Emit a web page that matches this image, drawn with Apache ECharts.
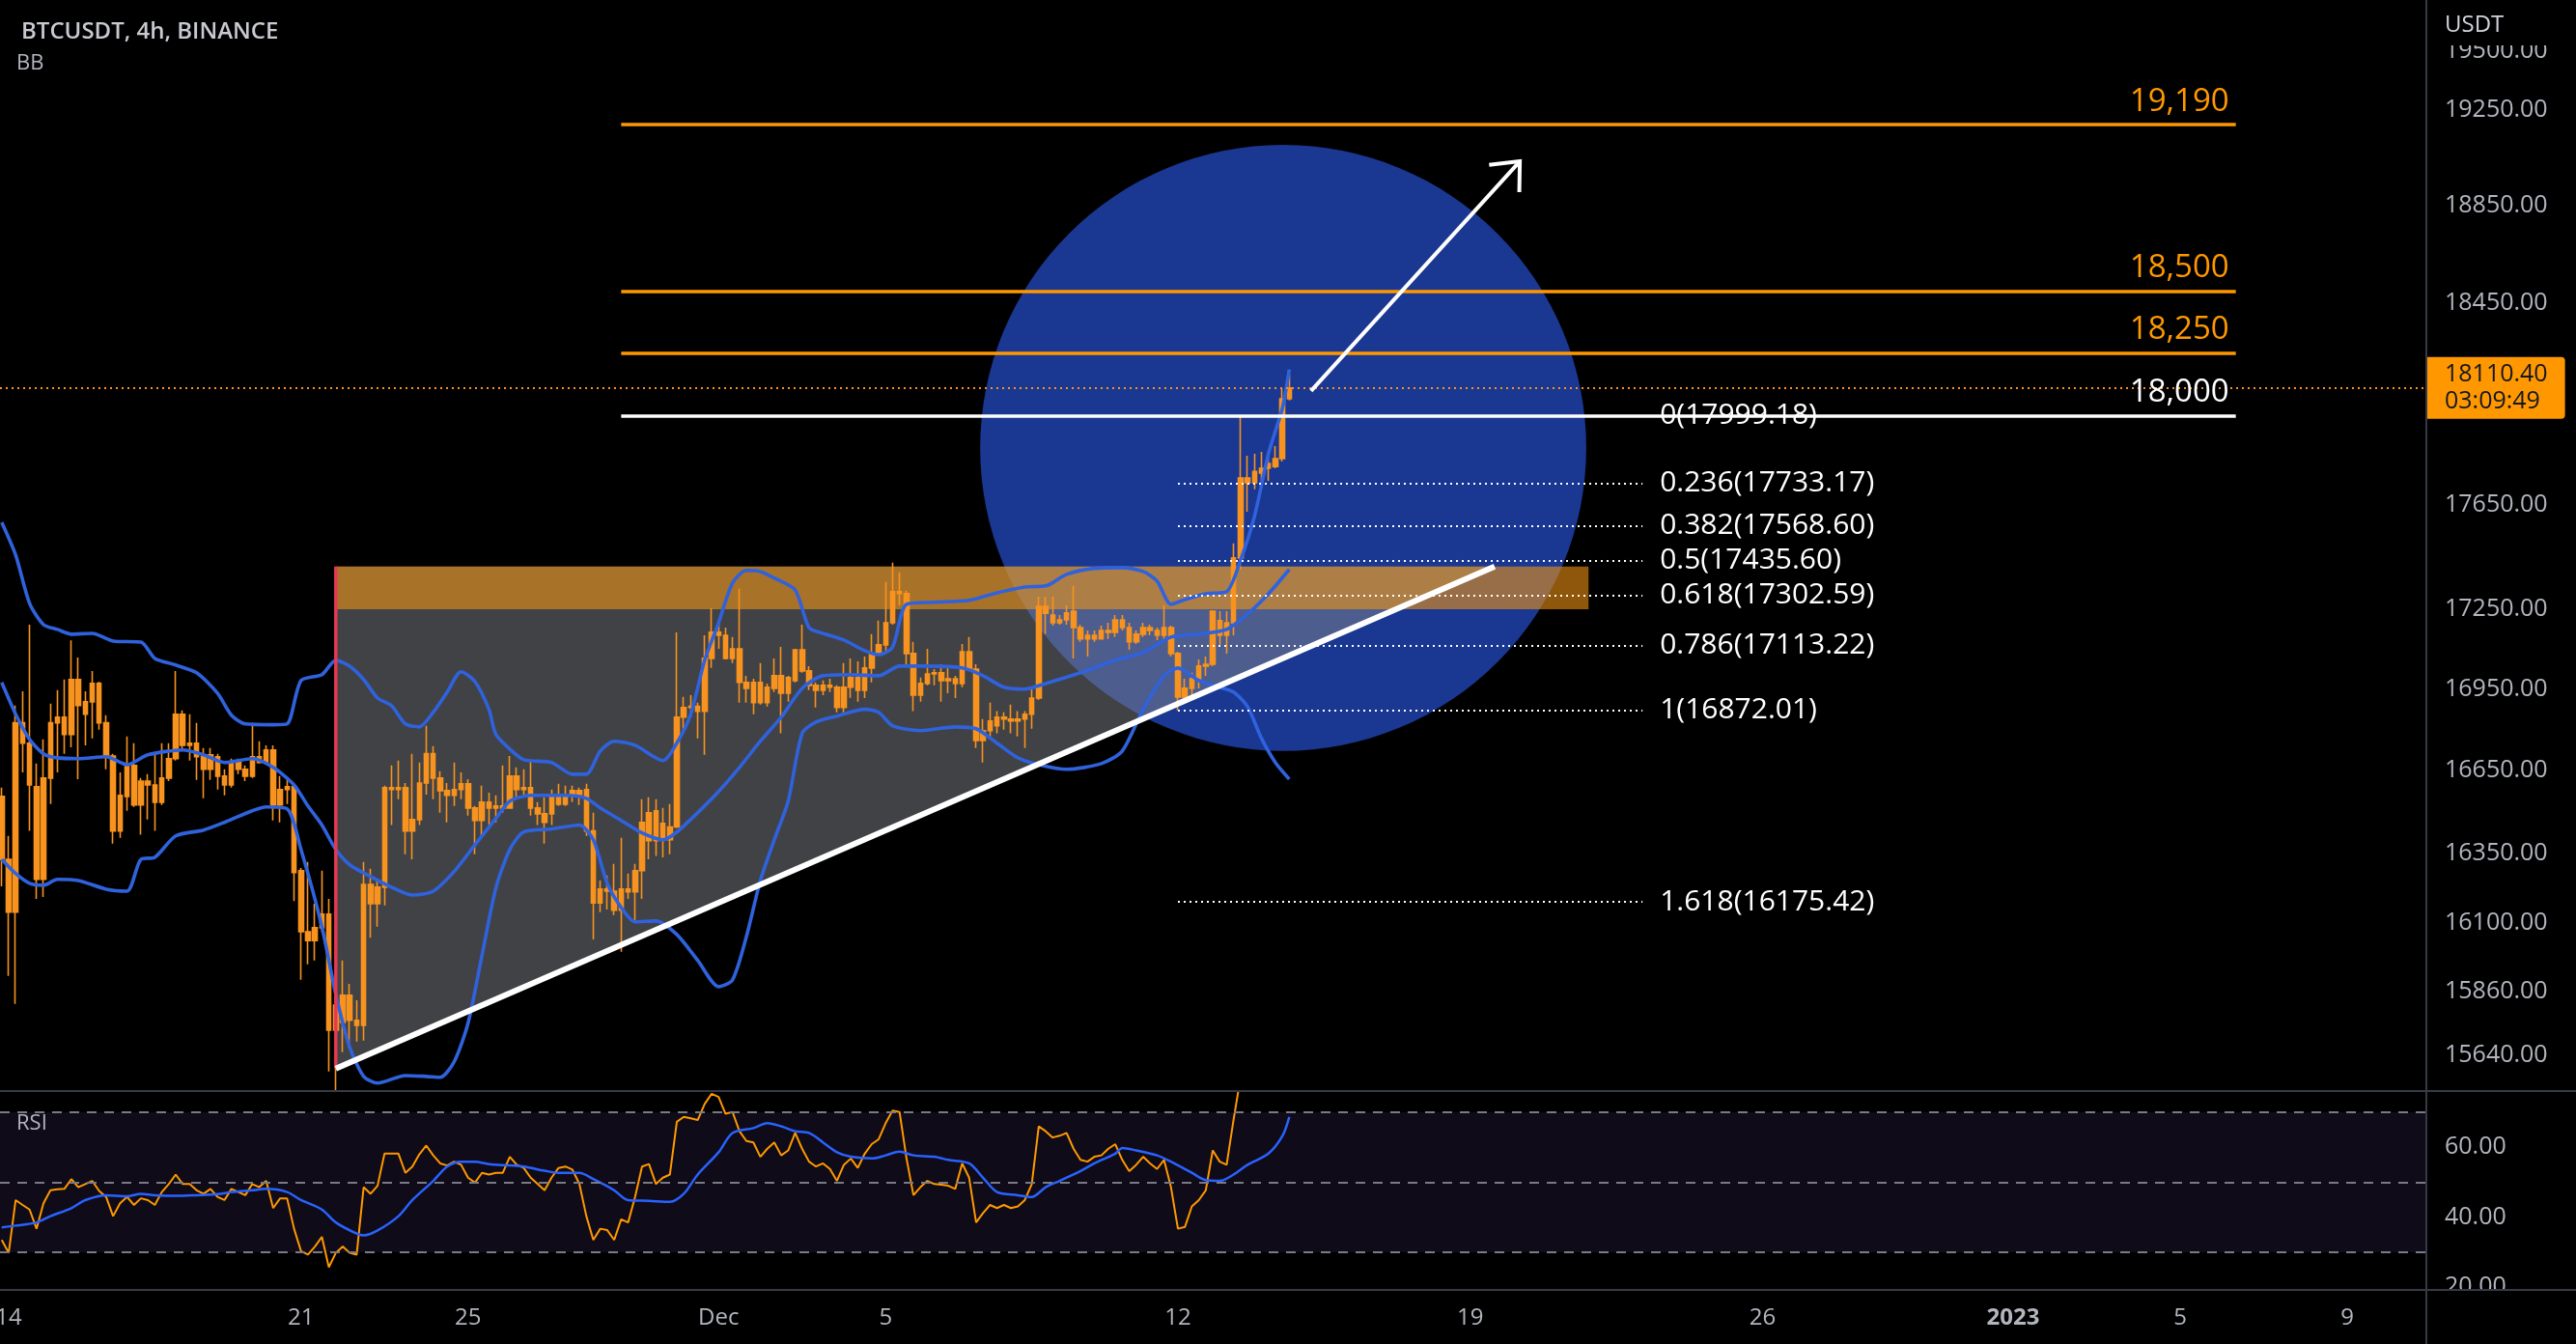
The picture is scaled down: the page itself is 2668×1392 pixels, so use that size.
<!DOCTYPE html>
<html><head><meta charset="utf-8">
<script src="https://cdn.jsdelivr.net/npm/echarts@6/dist/echarts.min.js"></script>
<style>html,body{margin:0;padding:0;background:#000;overflow:hidden}#chart{width:2668px;height:1392px}</style>
</head><body><div id="chart"></div>
<script>
// ---------------- data ----------------
const firstBarTime = '2022-11-13T20:00:00Z';
const barHours = 4;
// [open, close, low, high] per 4h bar
const candles = [
[16555,16328,16231,16587],[16328,16139,15915,16412],[16139,16825,15817,16889],[16825,16750,16643,16942],[16750,16597,16430,17192],
[16590,16256,16186,16675],[16256,16622,16193,16764],[16622,16825,16527,16896],[16825,16846,16643,16946],[16846,16782,16711,16986],
[16782,16986,16735,17133],[16986,16889,16618,17068],[16857,16903,16742,16942],[16903,16971,16768,17018],[16971,16825,16800,16978],
[16825,16703,16654,16853],[16703,16430,16384,16711],[16430,16559,16405,16643],[16555,16668,16503,16775],[16668,16524,16517,16750],
[16524,16611,16416,16622],[16611,16597,16471,16636],[16597,16534,16430,16718],[16534,16622,16524,16750],[16622,16693,16611,16750],
[16693,16857,16686,17018],[16857,16742,16725,16871],[16742,16750,16686,16857],[16750,16700,16615,16825],[16700,16654,16548,16732],
[16654,16707,16615,16732],[16700,16629,16580,16711],[16629,16597,16559,16654],[16597,16679,16587,16693],[16679,16654,16636,16693],
[16654,16629,16611,16668],[16629,16700,16622,16825],[16700,16679,16675,16757],[16679,16725,16675,16742],[16725,16524,16468,16742],
[16524,16580,16461,16629],[16580,16590,16527,16618],[16590,16280,16179,16597],[16287,16070,15901,16297],[16070,16039,15955,16318],
[16039,16084,15969,16169],[16084,16132,16067,16287],[16132,15726,15584,16186],[15726,15813,15517,15840],[15753,15847,15650,15969],
[15847,15760,15663,15887],[15760,15743,15687,15830],[15743,16238,15690,16318],[16238,16169,16049,16294],[16169,16228,16088,16256],
[16228,16587,16163,16594],[16587,16580,16451,16668],[16580,16587,16545,16686],[16587,16430,16346,16604],[16430,16471,16328,16711],
[16471,16604,16451,16679],[16604,16711,16562,16814],[16711,16622,16545,16739],[16622,16576,16496,16647],[16576,16559,16461,16604],
[16559,16580,16520,16679],[16580,16601,16545,16643],[16601,16513,16485,16618],[16513,16468,16346,16520],[16468,16534,16412,16594],
[16534,16513,16451,16569],[16513,16520,16461,16559],[16520,16513,16496,16668],[16513,16629,16513,16703],[16629,16580,16545,16661],
[16580,16587,16562,16654],[16587,16513,16485,16686],[16513,16492,16451,16534],[16492,16461,16384,16552],[16492,16562,16451,16580],
[16562,16527,16520,16601],[16527,16562,16520,16594],[16562,16576,16534,16594],[16576,16562,16524,16587],[16580,16430,16412,16601],
[16430,16172,16043,16496],[16172,16221,16139,16252],[16221,16214,16149,16270],[16214,16146,16129,16311],[16146,16221,15999,16405],
[16221,16211,16186,16277],[16211,16287,16105,16311],[16287,16461,16186,16545],[16496,16395,16328,16552],[16395,16503,16340,16545],
[16457,16398,16335,16513],[16398,16444,16346,16527],[16444,16846,16440,17163],[16846,16882,16796,16921],[16882,16886,16846,16928],
[16886,16868,16768,16900],[16868,17065,16707,17152],[17065,17163,17029,17254],[17163,17152,17101,17199],[17152,17065,17061,17181],
[17065,17101,17047,17145],[17101,16975,16900,17328],[16975,16953,16900,17000],[16975,16900,16857,16989],[16900,16975,16893,17047],
[16957,16900,16885,16971],[16953,17000,16939,17065],[17000,16935,16786,17108],[16935,16993,16903,17000],[16982,17097,16975,17101],
[17097,17018,17011,17192],[17018,16964,16946,17036],[16964,16946,16882,16975],[16946,16964,16928,16982],[16964,16957,16939,16989],
[16957,16882,16864,16964],[16882,16957,16864,17047],[16957,16993,16918,17065],[16993,16946,16903,17054],[16946,17029,16917,17072],
[17029,17083,16975,17156],[17083,17116,17079,17207],[17116,17199,17083,17354],[17199,17317,17192,17428],[17317,17310,17265,17391],
[17310,17083,17036,17321],[17083,16928,16868,17127],[16928,16971,16903,16993],[16971,17007,16964,17101],[17007,17011,16964,17025],
[17011,16982,16903,17043],[16982,16989,16935,17036],[16989,16971,16917,17000],[16971,17090,16957,17119],[17090,17025,17018,17145],
[17025,16760,16732,17043],[16760,16796,16679,16839],[16796,16832,16768,16900],[16814,16846,16786,16868],[16846,16839,16800,16864],
[16839,16832,16786,16893],[16832,16839,16775,16868],[16839,16857,16732,16868],[16857,16917,16803,16957],[16917,17261,16910,17298],
[17261,17235,17156,17298],[17228,17199,17188,17298],[17199,17210,17192,17228],[17210,17236,17192,17265],[17243,17181,17065,17339],
[17181,17138,17127,17192],[17138,17152,17072,17170],[17152,17138,17127,17170],[17138,17170,17138,17188],[17170,17163,17138,17199],
[17163,17210,17145,17228],[17210,17181,17170,17228],[17181,17127,17097,17199],[17127,17156,17119,17170],[17156,17181,17145,17199],
[17181,17170,17152,17192],[17170,17152,17134,17181],[17152,17181,17138,17265],[17181,17083,17072,17188],[17083,16921,16872.01,17090],
[16921,16953,16903,16989],[16953,16989,16921,17011],[16989,17036,16953,17061],[17036,17043,17000,17072],[17043,17243,17036,17247],
[17207,17152,17116,17243],[17152,17199,17083,17243],[17199,17446,17152,17502],[17446,17755,17402,17999.18],[17755,17737,17624,17842],
[17737,17781,17711,17850],[17774,17793,17737,17857],[17793,17812,17744,17842],[17800,17831,17793,17880],[17831,18067,17820,18109],
[18067,18110.4,18060,18163]
];
// RSI per bar (aligned with candles)
const rsiValues = [33.5,29.8,44.9,43.5,42.2,36.7,44.0,47.7,48.0,48.1,50.9,48.6,49.5,50.4,47.5,45.8,40.3,44.0,45.8,43.5,
45.4,44.9,43.5,47.2,49.5,52.2,49.5,49.5,47.7,46.7,48.1,45.8,44.9,48.1,47.2,46.3,49.5,48.6,50.4,42.6,
45.4,45.4,36.7,30.3,29.3,31.6,34.4,25.7,29.8,31.6,29.8,29.3,48.6,46.7,49.0,58.2,58.2,58.2,52.7,54.5,
58.0,60.5,57.7,55.4,54.8,55.9,55.0,51.3,49.9,52.7,52.2,52.7,52.7,57.3,55.0,54.1,51.3,49.5,47.7,51.3,
54.1,54.5,53.6,49.5,40.3,33.5,36.7,36.3,33.5,39.4,38.5,45.8,54.5,55.2,49.5,51.3,52.2,67.3,68.7,68.3,
67.8,72.4,75.3,74.4,69.6,70.1,64.6,61.8,61.4,57.3,59.6,61.4,57.7,59.1,64.1,59.6,55.9,54.5,55.4,53.8,
50.4,55.0,56.8,54.1,58.2,60.9,62.3,66.9,70.5,70.1,56.8,46.3,48.6,50.4,49.5,49.3,49.0,48.1,55.4,51.3,
38.5,41.2,43.5,42.6,43.5,42.6,43.1,44.9,49.5,66.0,64.6,62.8,63.3,64.1,59.6,56.4,55.9,57.3,57.7,59.6,
60.9,56.4,53.2,55.0,57.3,55.4,53.8,56.4,48.6,36.7,37.2,43.1,44.9,47.7,59.1,55.9,55.0,68.0,80.0,79.0,
80.0,80.5,81.0,82.0,86.0,87.0];
// [bar index, value] readings of the smoothed RSI line
const rsiMA = [[0,37.1],[2,37.6],[5,38.5],[7,40.3],[10,42.6],[12,44.9],[15,46.3],[18,46.0],[20,46.7],[22,46.3],[25,46.1],[28,46.3],[31,46.6],[33,47.2],[36,47.7],[38,48.1],[41,47.2],[43,44.9],[46,42.2],[48,38.5],[51,35.3],[52,34.8],[54,36.2],[57,40.3],[59,44.9],[62,50.4],[64,54.5],[66,55.9],[68,55.9],[70,55.2],[73,54.8],[75,54.5],[78,53.3],[80,52.7],[83,52.7],[85,50.9],[88,47.7],[90,44.9],[93,44.7],[96,44.4],[98,46.7],[100,52.2],[103,58.6],[105,64.1],[108,65.5],[110,66.9],[112,66.0],[114,64.6],[116,64.1],[118,61.4],[120,58.6],[122,57.3],[125,56.8],[127,57.7],[129,58.8],[131,57.7],[134,57.3],[136,56.4],[139,55.4],[141,51.3],[143,47.2],[146,46.3],[148,45.8],[150,48.6],[152,50.4],[155,53.2],[157,55.4],[160,58.2],[161,59.8],[163,59.1],[166,57.7],[168,55.9],[171,52.7],[173,50.6],[175,50.4],[177,52.2],[179,55.0],[182,58.2],[184,63.2],[185,68.7]];
// Bollinger bands, [bar index, price] readings
const bbUpper = [[0,17583],[2,17457],[4,17273],[6,17192],[8,17174],[10,17156],[13,17159],[16,17130],[20,17126],[22,17065],[25,17040],[28,17011],[31,16935],[33,16853],[35,16821],[39,16818],[41,16821],[43,16982],[46,17004],[48,17058],[50,17036],[52,16986],[54,16917],[56,16889],[58,16821],[60,16810],[62,16864],[64,16939],[66,17015],[68,16978],[70,16875],[71,16782],[73,16728],[75,16689],[79,16679],[82,16636],[84,16636],[86,16721],[88,16757],[91,16742],[95,16686],[97,16750],[99,16857],[101,17058],[103,17199],[105,17350],[107,17398],[109,17394],[111,17369],[114,17324],[116,17181],[118,17159],[121,17134],[124,17094],[126,17079],[128,17108],[130,17269],[134,17277],[139,17284],[143,17313],[147,17335],[150,17339],[153,17383],[157,17406],[161,17409],[164,17394],[166,17357],[168,17269],[170,17287],[173,17309],[176,17317],[178,17438],[180,17606],[182,17850],[184,18029],[185,18184]];
const bbBasis = [[0,16975],[2,16857],[4,16764],[6,16711],[8,16696],[11,16693],[15,16700],[18,16671],[21,16707],[26,16725],[29,16707],[32,16679],[36,16693],[39,16661],[42,16597],[44,16520],[46,16451],[48,16363],[50,16308],[53,16266],[56,16228],[59,16200],[62,16214],[65,16284],[68,16380],[71,16475],[73,16538],[76,16559],[81,16559],[84,16548],[86,16513],[89,16468],[92,16423],[95,16398],[97,16426],[100,16496],[103,16573],[106,16661],[109,16757],[112,16846],[115,16953],[118,17000],[122,17004],[126,17000],[129,17036],[133,17036],[138,17029],[141,17000],[144,16957],[147,16950],[150,16971],[155,17011],[160,17058],[164,17087],[168,17145],[172,17156],[176,17174],[179,17232],[182,17309],[185,17402]];
const bbLower = [[0,16328],[2,16277],[4,16242],[6,16235],[8,16256],[11,16252],[15,16221],[18,16214],[20,16328],[22,16335],[25,16412],[29,16433],[32,16461],[36,16503],[38,16517],[41,16510],[43,16363],[46,16088],[48,15850],[50,15667],[52,15567],[54,15544],[58,15570],[61,15567],[63,15564],[65,15617],[67,15750],[69,15986],[71,16225],[73,16363],[75,16426],[79,16437],[83,16451],[85,16398],[87,16242],[89,16156],[91,16105],[94,16108],[97,16060],[100,15969],[103,15877],[105,15901],[107,16053],[109,16252],[111,16398],[113,16538],[115,16786],[117,16828],[120,16850],[124,16875],[126,16864],[128,16814],[132,16796],[137,16810],[140,16803],[143,16750],[146,16696],[149,16671],[153,16654],[158,16675],[161,16721],[164,16875],[167,17000],[169,17029],[172,16982],[175,16957],[177,16939],[179,16885],[181,16768],[183,16679],[185,16618]];

const dateTicks = ['2022-11-14','2022-11-21','2022-11-25','2022-12-01','2022-12-05','2022-12-12','2022-12-19','2022-12-26','2023-01-01','2023-01-05','2023-01-09'];
const dateTickLabels = ['14','21','25','Dec','5','12','19','26','2023','5','9'];
const priceTicks = [15640,15860,16100,16350,16650,16950,17250,17650,18450,18850,19250,19500];
const rsiTicks = [20,40,60];
const rsiGuides = [30,50,70];

const levelPrices = [19190,18500,18250,18000];
const levelLabels = ['19,190','18,500','18,250','18,000'];
const levelSpan = ['2022-11-28T16:00:00Z','2023-01-06T08:00:00Z'];
const fibRatios = ['0','0.236','0.382','0.5','0.618','0.786','1','1.618'];
const fibPrices = [17999.18,17733.17,17568.60,17435.60,17302.59,17113.22,16872.01,16175.42];
const fibSpan = ['2022-12-12T00:00:00Z','2022-12-23T03:00:00Z'];
const zoneSpan = ['2022-11-21T20:00:00Z','2022-12-21T20:00:00Z'];
const zonePrices = [17250,17413];
const triangle = [['2022-11-21T20:00:00Z',17413],['2022-11-21T20:00:00Z',15594],['2022-12-19T14:00:00Z',17413]];
const trendLine = [['2022-11-21T20:00:00Z',15594],['2022-12-19T14:00:00Z',17413]];
const redLine = [['2022-11-21T20:00:00Z',17413],['2022-11-21T20:00:00Z',15594]];
const arrowLine = [['2022-12-15T04:30:00Z',18098],['2022-12-20T04:30:00Z',19035]];
const circleCenter = ['2022-12-14T12:30:00Z',17873];
const circleEdgePrice = 19104;
const lastPrice = 18110.40;
const countdown = '03:09:49';
const xRange = ['2022-11-13T19:00:00Z','2023-01-10T21:30:00Z'];
const priceRange = [15517,19722];
const rsiRange = [19.2,76.1];

// ---------------- chart ----------------
const T = s => Date.parse(s.length === 10 ? s + 'T00:00:00Z' : s);
const H = barHours * 3600 * 1000;
const t0 = T(firstBarTime);
const candleData = candles.map((c, i) => [t0 + i * H, c[0], c[1], c[2], c[3]]);
const bySeries = arr => arr.map(([i, v]) => [t0 + i * H, v]);
const tickTimes = dateTicks.map(T);
const ORANGE = '#f7931e', BLUE = '#2f62dc', GREY = '#b2b5be';
const FONT = 'Open Sans';

const levelMarks = levelPrices.map((p, i) => [
  { coord: [T(levelSpan[0]), p], lineStyle: { color: i === 3 ? '#ffffff' : '#ff9800', width: 3.5, type: 'solid' },
    label: { show: true, position: 'insideEndTop', distance: 7, formatter: levelLabels[i], color: i === 3 ? '#ffffff' : '#ff9800', fontSize: 33, fontFamily: FONT } },
  { coord: [T(levelSpan[1]), p] }
]);
const fibMarks = fibPrices.map((p, i) => [
  { coord: [T(fibSpan[0]), p], lineStyle: { color: '#ffffff', width: 2, type: [2, 4] },
    label: { show: true, position: 'end', distance: 18, formatter: fibRatios[i] + '(' + p.toFixed(2) + ')', color: '#ffffff', fontSize: 30, fontFamily: FONT } },
  { coord: [T(fibSpan[1]), p] }
]);

const chart = echarts.init(document.getElementById('chart'), null, { renderer: 'canvas' });
chart.setOption({
  backgroundColor: '#000000',
  animation: false,
  title: { text: 'BTCUSDT, 4h, BINANCE', left: 17, top: 16, textStyle: { color: '#c8cad1', fontSize: 24, fontWeight: 600, fontFamily: FONT } },
  grid: [
    { left: 0, top: 0, width: 2513, height: 1130, outerBoundsMode: 'none', containLabel: false },
    { left: 0, top: 1130, width: 2513, height: 206, outerBoundsMode: 'none', containLabel: false }
  ],
  xAxis: [
    { type: 'value', gridIndex: 0, min: T(xRange[0]), max: T(xRange[1]), show: false },
    { type: 'value', gridIndex: 1, min: T(xRange[0]), max: T(xRange[1]),
      axisLine: { show: false }, axisTick: { show: false }, splitLine: { show: false },
      axisLabel: { customValues: tickTimes, margin: 17, color: GREY, fontSize: 24, fontFamily: FONT, showMinLabel: true, showMaxLabel: true, hideOverlap: false,
        formatter: v => { let i = tickTimes.findIndex(t => Math.abs(t - v) < 3600000); const s = i >= 0 ? dateTickLabels[i] : ''; return s === '2023' ? '{b|2023}' : s; },
        rich: { b: { fontWeight: 'bold', fontSize: 24, color: GREY, fontFamily: FONT } } } }
  ],
  yAxis: [
    { type: 'log', logBase: 10, gridIndex: 0, position: 'right', min: priceRange[0], max: priceRange[1],
      axisLine: { show: false }, axisTick: { show: false }, splitLine: { show: false },
      axisLabel: { customValues: priceTicks, margin: 19, color: GREY, fontSize: 25, fontFamily: FONT, formatter: v => Number(v).toFixed(2) } },
    { type: 'value', gridIndex: 1, position: 'right', min: rsiRange[0], max: rsiRange[1],
      axisLine: { show: false }, axisTick: { show: false }, splitLine: { show: false },
      axisLabel: { customValues: rsiTicks, margin: 19, color: GREY, fontSize: 25, fontFamily: FONT, formatter: v => Number(v).toFixed(2) } }
  ],
  graphic: [
    { type: 'rect', shape: { x: 2515, y: 0, width: 153, height: 47 }, style: { fill: '#000' }, z: 100 },
    { type: 'rect', shape: { x: 2515, y: 1337, width: 153, height: 55 }, style: { fill: '#000' }, z: 100 },
    { type: 'text', x: 2532, y: 26, style: { text: 'USDT', fill: '#d1d4dc', font: '24px "Open Sans"', textVerticalAlign: 'middle' }, z: 101 },
    { type: 'text', x: 17, y: 66, style: { text: 'BB', fill: GREY, font: '22px "Open Sans"', textVerticalAlign: 'middle' }, z: 101 },
    { type: 'text', x: 17, y: 1164, style: { text: 'RSI', fill: GREY, font: '22px "Open Sans"', textVerticalAlign: 'middle' }, z: 101 },
    { type: 'line', shape: { x1: 0, y1: 1130, x2: 2668, y2: 1130 }, style: { stroke: '#363a45', lineWidth: 2 }, z: 101 },
    { type: 'line', shape: { x1: 0, y1: 1336, x2: 2668, y2: 1336 }, style: { stroke: '#363a45', lineWidth: 2 }, z: 101 },
    { type: 'line', shape: { x1: 2513, y1: 0, x2: 2513, y2: 1392 }, style: { stroke: '#363a45', lineWidth: 2 }, z: 101 }
  ],
  series: [
    { type: 'custom', xAxisIndex: 0, yAxisIndex: 0, z: 1, silent: true, clip: true,
      data: [[T(circleCenter[0]), circleCenter[1]]], encode: { x: 0, y: 1 },
      renderItem: (params, api) => {
        const c = api.coord([T(circleCenter[0]), circleCenter[1]]);
        const e = api.coord([T(circleCenter[0]), circleEdgePrice]);
        return { type: 'circle', shape: { cx: c[0], cy: c[1], r: Math.abs(c[1] - e[1]) }, style: { fill: 'rgba(33,70,186,0.78)' } };
      } },
    { type: 'custom', xAxisIndex: 0, yAxisIndex: 0, z: 1, silent: true, clip: true,
      data: [[T(triangle[0][0]), triangle[0][1]]], encode: { x: 0, y: 1 },
      renderItem: (params, api) => ({ type: 'polygon', shape: { points: triangle.map(p => api.coord([T(p[0]), p[1]])) }, style: { fill: 'rgba(128,131,140,0.5)' } }) },
    { type: 'custom', xAxisIndex: 0, yAxisIndex: 0, z: 1, silent: true, clip: true,
      data: [[T(zoneSpan[0]), zonePrices[1]]], encode: { x: 0, y: 1 },
      renderItem: (params, api) => {
        const a = api.coord([T(zoneSpan[0]), zonePrices[1]]);
        const b = api.coord([T(zoneSpan[1]), zonePrices[0]]);
        return { type: 'rect', shape: { x: a[0], y: a[1], width: b[0] - a[0], height: b[1] - a[1] }, style: { fill: 'rgba(245,150,20,0.58)' } };
      } },
    { type: 'candlestick', name: 'BTCUSDT', xAxisIndex: 0, yAxisIndex: 0, z: 2, barWidth: 5, barMaxWidth: 5, clip: true,
      data: candleData, encode: { x: 0, y: [1, 2, 3, 4] },
      itemStyle: { color: ORANGE, color0: ORANGE, borderColor: ORANGE, borderColor0: ORANGE, borderColorDoji: ORANGE, borderWidth: 1.6 },
      markLine: { silent: true, symbol: 'none', animation: false, z: 5,
        data: [
          ...levelMarks,
          ...fibMarks,
          { yAxis: lastPrice, lineStyle: { color: ORANGE, width: 2, type: [2, 4] },
            label: { show: true, position: 'end', distance: 1, formatter: lastPrice.toFixed(2) + '\n' + countdown,
              backgroundColor: '#ff9800', color: '#131722', fontSize: 25, lineHeight: 28, fontFamily: FONT,
              padding: [4, 18, 4, 18], borderRadius: [0, 4, 4, 0], align: 'left' } }
        ] } },
    { type: 'line', name: 'BB upper', xAxisIndex: 0, yAxisIndex: 0, z: 3, data: bySeries(bbUpper), showSymbol: false, smooth: 0.25, lineStyle: { color: BLUE, width: 3.6 } },
    { type: 'line', name: 'BB basis', xAxisIndex: 0, yAxisIndex: 0, z: 3, data: bySeries(bbBasis), showSymbol: false, smooth: 0.25, lineStyle: { color: BLUE, width: 3.6 } },
    { type: 'line', name: 'BB lower', xAxisIndex: 0, yAxisIndex: 0, z: 3, data: bySeries(bbLower), showSymbol: false, smooth: 0.25, lineStyle: { color: BLUE, width: 3.6 } },
    { type: 'line', name: 'red', xAxisIndex: 0, yAxisIndex: 0, z: 4, data: redLine.map(p => [T(p[0]), p[1]]), showSymbol: false, lineStyle: { color: '#e53950', width: 3.5 } },
    { type: 'line', name: 'trend', xAxisIndex: 0, yAxisIndex: 0, z: 6, data: trendLine.map(p => [T(p[0]), p[1]]), showSymbol: false, lineStyle: { color: '#ffffff', width: 6 } },
    { type: 'custom', xAxisIndex: 0, yAxisIndex: 0, z: 6, silent: true, clip: true,
      data: [[T(arrowLine[1][0]), arrowLine[1][1]]], encode: { x: 0, y: 1 },
      renderItem: (params, api) => {
        const a = api.coord([T(arrowLine[0][0]), arrowLine[0][1]]);
        const b = api.coord([T(arrowLine[1][0]), arrowLine[1][1]]);
        const ang = Math.atan2(a[1] - b[1], a[0] - b[0]);
        const L = 32, s = 0.72;
        const w1 = [b[0] + L * Math.cos(ang + s), b[1] + L * Math.sin(ang + s)];
        const w2 = [b[0] + L * Math.cos(ang - s), b[1] + L * Math.sin(ang - s)];
        return { type: 'group', children: [
          { type: 'line', shape: { x1: a[0], y1: a[1], x2: b[0], y2: b[1] }, style: { stroke: '#fff', lineWidth: 4 } },
          { type: 'polyline', shape: { points: [w1, b, w2] }, style: { stroke: '#fff', lineWidth: 4, fill: null, lineJoin: 'miter' } }
        ] };
      } },
    { type: 'line', name: 'RSI', xAxisIndex: 1, yAxisIndex: 1, z: 3, data: rsiValues.map((v, i) => [t0 + i * H, v]), showSymbol: false,
      lineStyle: { color: '#ff9800', width: 2 },
      markArea: { silent: true, itemStyle: { color: 'rgba(126,87,194,0.12)' }, data: [[{ yAxis: rsiGuides[0] }, { yAxis: rsiGuides[2] }]] },
      markLine: { silent: true, symbol: 'none', label: { show: false }, lineStyle: { color: '#787b86', width: 2, type: [10, 8] },
        data: rsiGuides.map(v => ({ yAxis: v })) } },
    { type: 'line', name: 'RSI MA', xAxisIndex: 1, yAxisIndex: 1, z: 4, data: bySeries(rsiMA), showSymbol: false, smooth: 0.3, lineStyle: { color: '#2962ff', width: 2.5 } }
  ]
});
</script></body></html>
